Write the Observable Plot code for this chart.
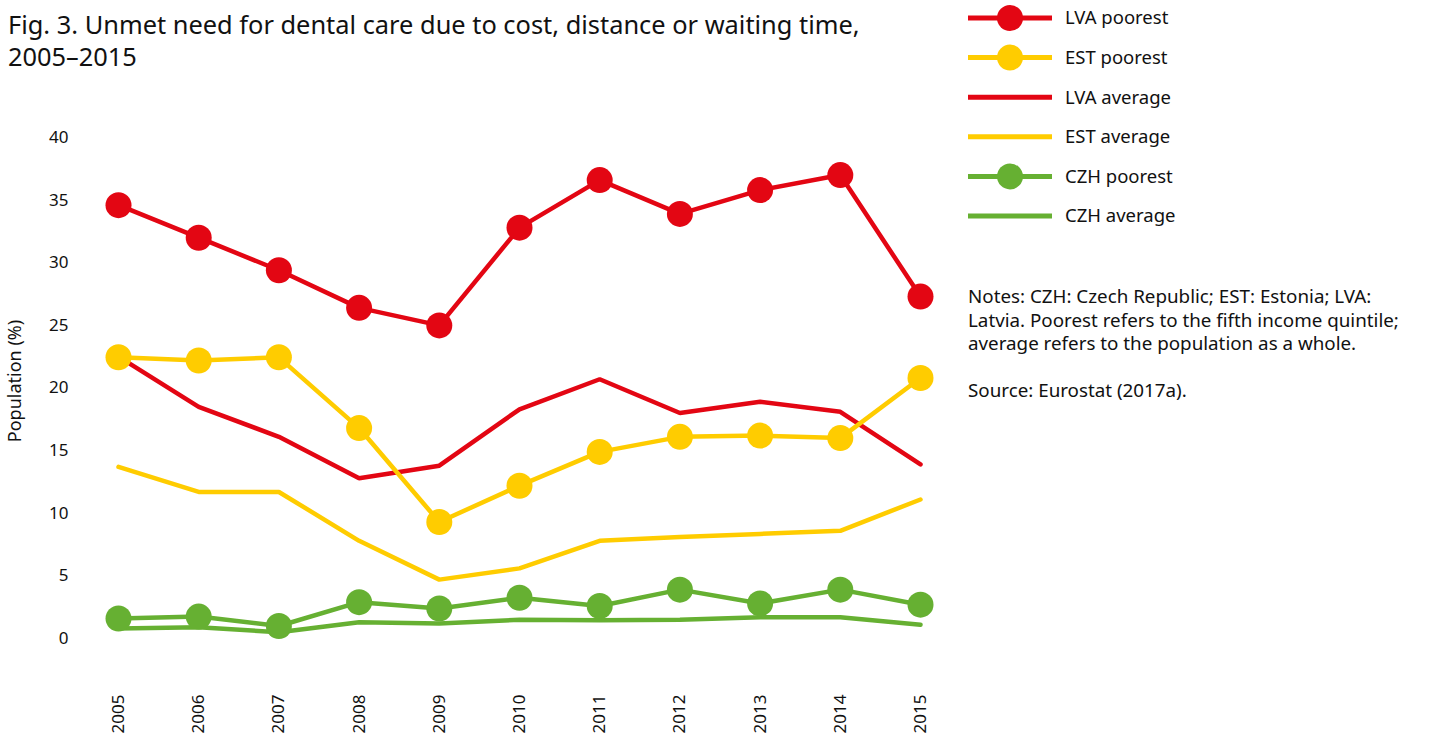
<!DOCTYPE html>
<html><head><meta charset="utf-8">
<script src="https://cdn.jsdelivr.net/npm/d3@7"></script>
<script src="https://cdn.jsdelivr.net/npm/@observablehq/plot@0.6"></script>
<style>
body{margin:0;background:#fff;font-family:"Noto Sans",sans-serif;color:#111;}
#wrap{position:relative;width:1432px;height:744px;overflow:hidden;background:#fff}
#title{position:absolute;left:8px;top:8px;font-family:"Noto Sans",sans-serif;font-size:25.4px;line-height:32px;color:#111;white-space:nowrap}
#chart{position:absolute;left:0;top:0}
#legend{position:absolute;left:0;top:0}
#notes{position:absolute;left:968px;top:285px;font-size:18.8px;line-height:23.5px;white-space:nowrap;color:#111}
</style></head>
<body>
<div id="wrap">
  <div id="chart"></div>
  <div id="title">Fig. 3. Unmet need for dental care due to cost, distance or waiting time,<br>2005–2015</div>
  <svg id="legend" width="1432" height="240"></svg>
  <div id="notes">Notes: CZH: Czech Republic; EST: Estonia; LVA:<br>Latvia. Poorest refers to the fifth income quintile;<br>average refers to the population as a whole.<br><br>Source: Eurostat (2017a).</div>
</div>
<script>
const years = [2005, 2006, 2007, 2008, 2009, 2010, 2011, 2012, 2013, 2014, 2015];
const lvaPoorest = [34.6, 32.0, 29.4, 26.4, 25.0, 32.8, 36.6, 33.9, 35.8, 37.0, 27.3];
const estPoorest = [22.45, 22.2, 22.45, 16.8, 9.3, 12.2, 14.9, 16.1, 16.2, 16.0, 20.8];
const lvaAverage = [22.5, 18.5, 16.1, 12.8, 13.8, 18.3, 20.7, 18.0, 18.9, 18.1, 13.9];
const estAverage = [13.7, 11.7, 11.7, 7.8, 4.7, 5.6, 7.8, 8.1, 8.35, 8.6, 11.1];
const czhPoorest = [1.6, 1.75, 1.0, 2.9, 2.4, 3.25, 2.6, 3.9, 2.8, 3.9, 2.7];
const czhAverage = [0.8, 0.9, 0.5, 1.3, 1.2, 1.5, 1.45, 1.5, 1.7, 1.7, 1.1];
const yTicks = [0, 5, 10, 15, 20, 25, 30, 35, 40];

const seriesNames = ["LVA poorest", "EST poorest", "LVA average", "EST average", "CZH poorest", "CZH average"];
const seriesColors = ["#e30613", "#ffcc00", "#e30613", "#ffcc00", "#66b032", "#66b032"];
const seriesHasDot = [true, true, false, false, true, false];
const seriesValues = [lvaPoorest, estPoorest, lvaAverage, estAverage, czhPoorest, czhAverage];

const rows = seriesNames.flatMap((s, i) => years.map((y, j) => ({series: s, year: y, value: seriesValues[i][j], color: seriesColors[i], dot: seriesHasDot[i]})));
const avgRows = rows.filter(d => !d.dot);
const poorRows = rows.filter(d => d.dot);

const chart = Plot.plot({
  width: 960,
  height: 744,
  marginLeft: 118,
  marginRight: 40,
  marginTop: 137,
  marginBottom: 106,
  style: {fontFamily: "'Noto Sans', sans-serif", fontSize: "17px", color: "#111", background: "transparent"},
  x: {domain: [2005, 2015]},
  y: {domain: [0, 40]},
  marks: [
    Plot.axisX({ticks: years, tickFormat: "d", tickRotate: -90, tickSize: 0, tickPadding: 56, label: null, fontSize: 17, style: {letterSpacing: "1.2px"}}),
    Plot.axisY({ticks: yTicks, tickSize: 0, tickPadding: 50, label: null}),
    Plot.text(["Population (%)"], {frameAnchor: "left", dx: -110, dy: -7, rotate: -90, textAnchor: "middle", lineAnchor: "top", fontSize: 18}),
    Plot.line(avgRows, {x: "year", y: "value", z: "series", stroke: "color", strokeWidth: 4.5, strokeLinejoin: "miter", strokeLinecap: "round"}),
    Plot.line(poorRows, {x: "year", y: "value", z: "series", stroke: "color", strokeWidth: 4.5, strokeLinejoin: "miter"}),
    Plot.dot(poorRows, {x: "year", y: "value", r: 13, fill: "color", stroke: null})
  ]
});
document.getElementById("chart").appendChild(chart);

// legend
const leg = d3.select("#legend");
const legY0 = 18, legStep = 39.6;
seriesNames.forEach((s, i) => {
  const y = legY0 + i * legStep;
  leg.append("line").attr("x1", 968).attr("x2", 1052).attr("y1", y).attr("y2", y)
    .attr("stroke", seriesColors[i]).attr("stroke-width", 5);
  if (seriesHasDot[i]) leg.append("circle").attr("cx", 1010).attr("cy", y).attr("r", 13).attr("fill", seriesColors[i]);
  leg.append("text").attr("x", 1065).attr("y", y).attr("dy", "0.35em")
    .attr("font-family", "'Noto Sans', sans-serif").attr("font-size", 18.5).attr("fill", "#111").text(s);
});
</script>
</body></html>
